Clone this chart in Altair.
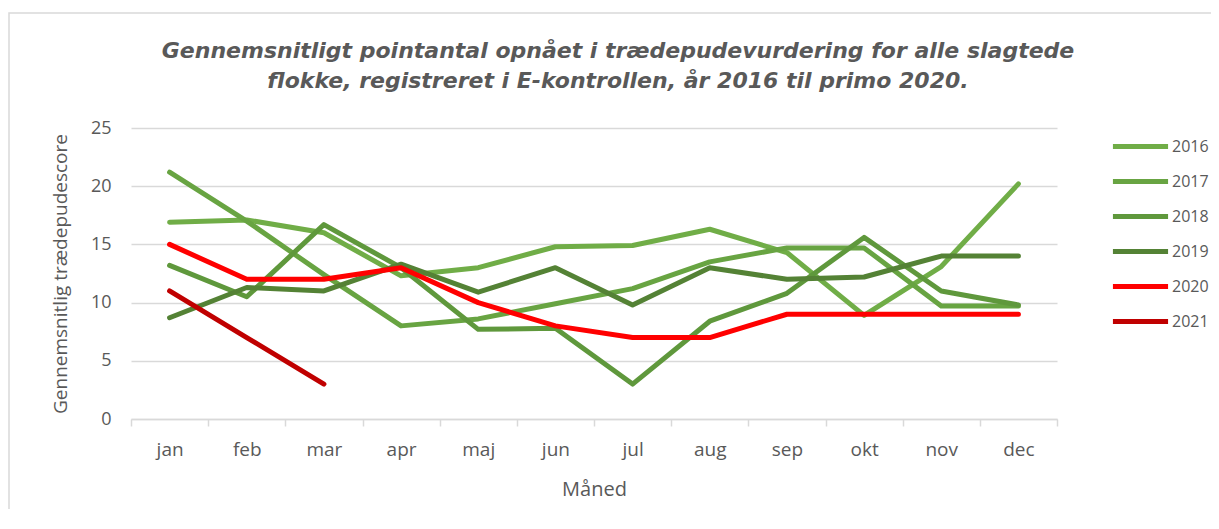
import altair as alt
import pandas as pd

months = ["jan", "feb", "mar", "apr", "maj", "jun", "jul", "aug", "sep", "okt", "nov", "dec"]
years = ["2016", "2017", "2018", "2019", "2020", "2021"]

v2016 = [16.9, 17.1, 16.0, 12.3, 13.0, 14.8, 14.9, 16.3, 14.3, 8.9, 13.1, 20.2]
v2017 = [21.2, 17.0, 12.4, 8.0, 8.6, 9.9, 11.2, 13.5, 14.7, 14.7, 9.7, 9.7]
v2018 = [13.2, 10.5, 16.7, 13.0, 7.7, 7.8, 3.0, 8.4, 10.8, 15.6, 11.0, 9.8]
v2019 = [8.7, 11.3, 11.0, 13.3, 10.9, 13.0, 9.8, 13.0, 12.0, 12.2, 14.0, 14.0]
v2020 = [15, 12, 12, 13, 10, 8, 7, 7, 9, 9, 9, 9]
v2021 = [11, 7, 3]

colors = ["#70AD47", "#68A442", "#5F983C", "#548235", "#FF0000", "#C00000"]

series = [v2016, v2017, v2018, v2019, v2020, v2021]
rows = []
for yr, vals in zip(years, series):
    for m, v in zip(months, vals):
        rows.append({"Måned": m, "year": yr, "value": v})
df = pd.DataFrame(rows)

lines = alt.Chart(df).mark_line(strokeWidth=5, strokeCap="round", strokeJoin="round").encode(
    x=alt.X("Måned:N", sort=months,
            scale=alt.Scale(type="band", paddingInner=0, paddingOuter=0),
            axis=alt.Axis(title="Måned", labelAngle=0, tickBand="extent",
                          domainColor="#D9D9D9", domainWidth=1.5, tickColor="#D9D9D9",
                          tickWidth=1.5, tickSize=7, labelPadding=14, grid=False,
                          labelFont="Open Sans", labelFontSize=19, labelColor="#595959",
                          titleFont="Open Sans", titleFontSize=20, titleColor="#595959",
                          titleFontWeight="normal", titlePadding=20)),
    y=alt.Y("value:Q", scale=alt.Scale(domain=[0, 25]),
            axis=alt.Axis(title="Gennemsnitlig trædepudescore", values=[0, 5, 10, 15, 20, 25],
                          domain=False, ticks=False, labelPadding=20,
                          gridColor="#D9D9D9", gridWidth=1.5,
                          labelFont="Open Sans", labelFontSize=18, labelColor="#595959",
                          titleFont="Open Sans", titleFontSize=19, titleColor="#595959",
                          titleFontWeight="normal", titlePadding=20)),
    color=alt.Color("year:N", sort=years,
                    scale=alt.Scale(domain=years, range=colors),
                    legend=alt.Legend(title=None, orient="none", legendX=993, legendY=2,
                                      symbolType="M-2,0H2", symbolSize=760, symbolStrokeWidth=5,
                                      labelFont="Open Sans", labelFontSize=16, labelColor="#595959",
                                      labelOffset=15, rowPadding=8)),
    detail="year:N",
)

frame = alt.Chart(pd.DataFrame({"a": [0]})).mark_rect(fill=None, stroke="#D9D9D9", strokeWidth=1.5, clip=False).encode(
    x=alt.value(-122), x2=alt.value(1200), y=alt.value(-115), y2=alt.value(500)
)

chart = alt.layer(frame, lines).properties(
    width=926,
    height=291,
    autosize=alt.AutoSizeParams(type="none"),
    padding={"left": 123, "top": 120, "right": 154, "bottom": 90},
    title=alt.TitleParams(
        ["Gennemsnitligt pointantal opnået i trædepudevurdering for alle slagtede",
         "flokke, registreret i E-kontrollen, år 2016 til primo 2020."],
        font="DejaVu Sans", fontSize=22, fontStyle="italic", fontWeight="bold",
        color="#595959", anchor="middle", frame="group", dx=24, offset=-81, lineHeight=30,
    ),
).configure_view(stroke=None)

chart.save("out.html", embed_options={"renderer": "svg", "actions": False})
